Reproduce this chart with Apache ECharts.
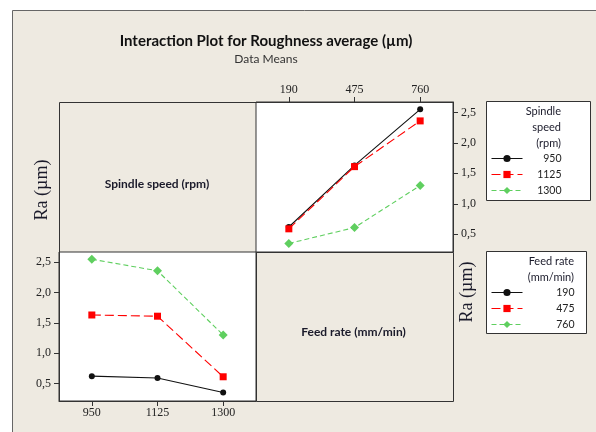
<!DOCTYPE html>
<html><head><meta charset="utf-8">
<script src="https://cdn.jsdelivr.net/npm/echarts@6/dist/echarts.min.js"></script>
<style>html,body{margin:0;padding:0;background:#fff}#c{width:596px;height:432px}</style>
</head><body><div id="c"></div>
<script>
// categories
const feedRates = ['190', '475', '760'];
const spindleSpeeds = ['950', '1125', '1300'];
// mean Ra (µm) for each spindle speed, one value per feed rate
const ra950 = [0.62, 1.63, 2.55];
const ra1125 = [0.59, 1.61, 2.36];
const ra1300 = [0.35, 0.61, 1.30];
// y tick labels
const yTicks = [0.5, 1.0, 1.5, 2.0, 2.5];
const yMin = 0.21, yMax = 2.67;

const bySpeed = [ra950, ra1125, ra1300];
const byFeed = feedRates.map((f, i) => bySpeed.map(arr => arr[i]));

const BEIGE = '#eeeae1';
const SANS = 'Lato';
const SERIF = 'Liberation Serif';
const looks = [
  { color: '#111111', symbol: 'circle', size: 6, type: 'solid' },
  { color: '#ff0000', symbol: 'rect', size: 7, type: [9, 4] },
  { color: '#5fcf5f', symbol: 'diamond', size: 9, type: [5, 3] }
];

function mkSeries(name, data, k, gi) {
  const lk = looks[k];
  return {
    name: name, type: 'line', xAxisIndex: gi, yAxisIndex: gi, data: data,
    symbol: lk.symbol, symbolSize: lk.size, color: lk.color,
    itemStyle: { color: lk.color },
    lineStyle: { color: lk.color, width: 1.1, type: lk.type },
    emphasis: { disabled: true }, animation: false
  };
}

const series = [];
spindleSpeeds.forEach((s, k) => series.push(mkSeries(s, bySpeed[k], k, 0)));
feedRates.forEach((f, k) => series.push(mkSeries(f, byFeed[k], k, 1)));

const fmt = v => v.toFixed(1).replace('.', ',');
const axisLabelStyle = { fontFamily: SERIF, fontSize: 12, color: '#222' };

function xAx(gi, data, pos) {
  return {
    gridIndex: gi, type: 'category', data: data, position: pos, boundaryGap: true,
    axisLine: { show: true, lineStyle: { color: '#333' } },
    axisTick: { show: true, alignWithLabel: true, length: 5, lineStyle: { color: '#333' } },
    axisLabel: Object.assign({ margin: 6 }, axisLabelStyle),
    splitLine: { show: false }
  };
}
function yAx(gi, pos) {
  return {
    gridIndex: gi, type: 'value', position: pos, min: yMin, max: yMax,
    axisLine: { show: true, lineStyle: { color: '#333' } },
    axisTick: { show: true, length: 5, customValues: yTicks, lineStyle: { color: '#333' } },
    axisLabel: Object.assign({ margin: 8, customValues: yTicks, formatter: fmt }, axisLabelStyle),
    splitLine: { show: false }
  };
}

function mkLegend(names, top, textW) {
  return {
    data: names, orient: 'vertical', left: 491, top: top, padding: 0,
    itemWidth: 31, itemHeight: 9, itemGap: 5, selectedMode: false,
    lineStyle: { width: 1 },
    formatter: n => '{r|' + n + '}',
    textStyle: { rich: { r: { width: textW, align: 'right', fontFamily: SANS, fontSize: 10.5, color: '#222' } } }
  };
}

const txt = (x, y, t, opt) => ({
  type: 'text', x: x, y: y, z: 20,
  rotation: (opt && opt.rot) || 0,
  style: Object.assign({ text: t, fill: '#1a1a2a', textAlign: 'center', textVerticalAlign: 'middle',
    font: '12px ' + SANS }, (opt && opt.style) || {})
});

const option = {
  backgroundColor: '#ffffff',
  animation: false,
  title: {
    text: 'Interaction Plot for Roughness average (µm)',
    subtext: 'Data Means',
    left: 266, top: 34, textAlign: 'center', padding: 0, itemGap: 4,
    textStyle: { fontFamily: SANS, fontWeight: 'bold', fontSize: 15, color: '#111' },
    subtextStyle: { fontFamily: SANS, fontSize: 12, color: '#333' }
  },
  grid: [
    { left: 256, top: 102, width: 197, height: 150, show: true, backgroundColor: '#ffffff', borderColor: '#333', borderWidth: 1 },
    { left: 59, top: 252, width: 197, height: 149, show: true, backgroundColor: '#ffffff', borderColor: '#333', borderWidth: 1 }
  ],
  xAxis: [xAx(0, feedRates, 'top'), xAx(1, spindleSpeeds, 'bottom')],
  yAxis: [yAx(0, 'right'), yAx(1, 'left')],
  legend: [mkLegend(spindleSpeeds, 153, 34), mkLegend(feedRates, 287, 47)],
  series: series,
  graphic: [
    { type: 'rect', z: -10, shape: { x: 12.5, y: 10.5, width: 620, height: 450 }, style: { fill: BEIGE, stroke: '#666', lineWidth: 1 } },
    { type: 'rect', z: -5, shape: { x: 59.5, y: 102.5, width: 197, height: 150 }, style: { fill: BEIGE, stroke: '#333', lineWidth: 1 } },
    { type: 'rect', z: -5, shape: { x: 256.5, y: 252.5, width: 197, height: 149 }, style: { fill: BEIGE, stroke: '#333', lineWidth: 1 } },
    { type: 'rect', z: -5, shape: { x: 486.5, y: 101.5, width: 104, height: 99 }, style: { fill: '#ffffff', stroke: '#333', lineWidth: 1 } },
    { type: 'rect', z: -5, shape: { x: 486.5, y: 251.5, width: 100, height: 82 }, style: { fill: '#ffffff', stroke: '#333', lineWidth: 1 } },
    txt(157, 184, 'Spindle speed (rpm)', { style: { font: 'bold 12px ' + SANS } }),
    txt(353.5, 332, 'Feed rate (mm/min)', { style: { font: 'bold 12px ' + SANS } }),
    txt(42, 190, 'Ra (µm)', { rot: Math.PI / 2, style: { font: '18px ' + SERIF } }),
    txt(467, 292, 'Ra (µm)', { rot: Math.PI / 2, style: { font: '18px ' + SERIF } }),
    txt(561, 111, 'Spindle', { style: { textAlign: 'right', font: '11px ' + SANS } }),
    txt(561, 127, 'speed', { style: { textAlign: 'right', font: '11px ' + SANS } }),
    txt(561, 143, '(rpm)', { style: { textAlign: 'right', font: '11px ' + SANS } }),
    txt(574, 261, 'Feed rate', { style: { textAlign: 'right', font: '11px ' + SANS } }),
    txt(574, 277.5, '(mm/min)', { style: { textAlign: 'right', font: '11px ' + SANS } })
  ]
};

const chart = echarts.init(document.getElementById('c'), null, { renderer: 'canvas' });
chart.setOption(option);
</script>
</body></html>
